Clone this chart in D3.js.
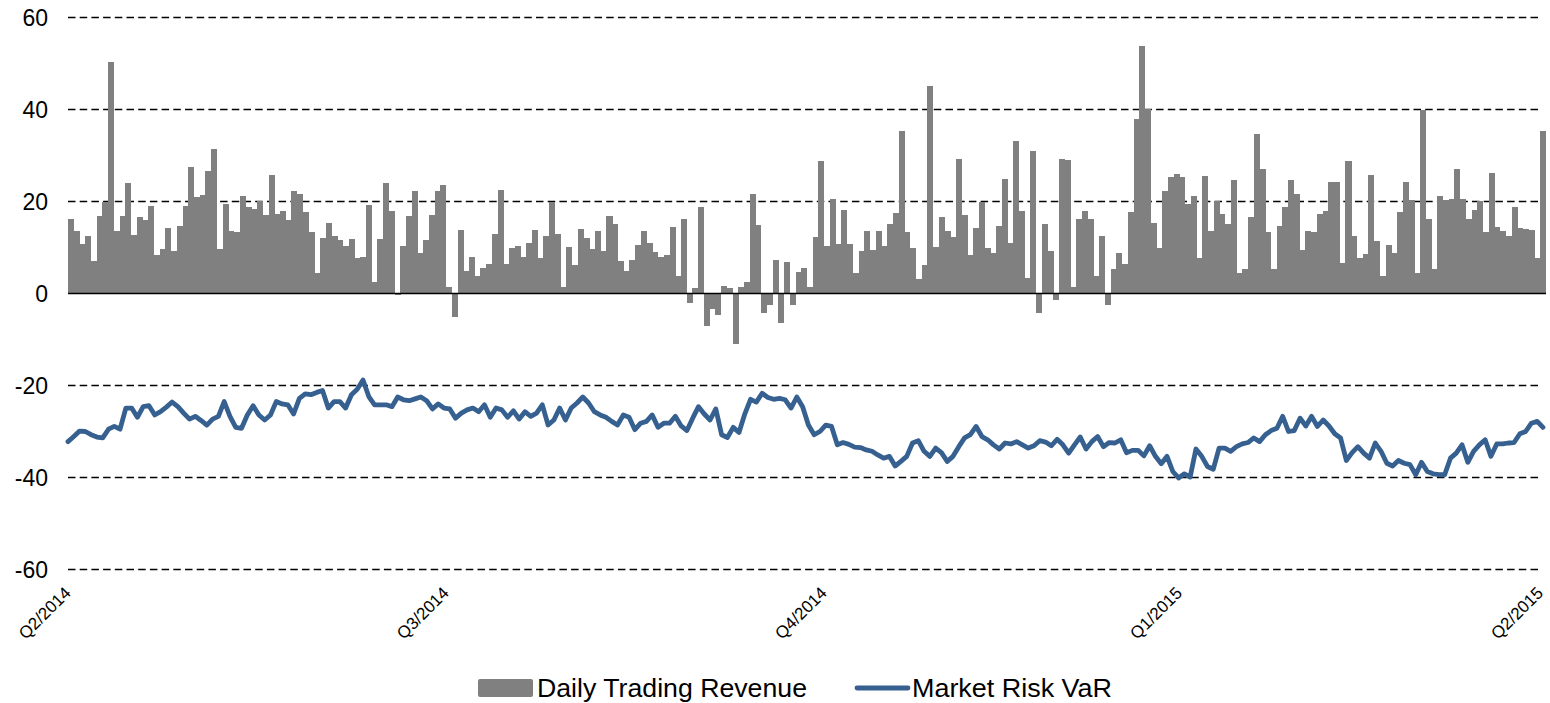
<!DOCTYPE html>
<html>
<head>
<meta charset="utf-8">
<script src="https://cdn.jsdelivr.net/npm/d3@7"></script>
<style>
  body { margin: 0; background: #fff; }
  text { font-family: "Liberation Sans", Arial, sans-serif; fill: #000; }
</style>
</head>
<body>
<svg id="chart" width="1550" height="703"></svg>
<script>
// daily trading revenue, one value per trading day
var revenue = [
  16.2, 13.6, 10.7, 12.4, 7.1, 16.9, 20, 50.3, 13.6, 16.9, 24.1, 12.8, 16.7, 15.9, 19.1, 8.4, 9.6, 14.2, 9.3, 14.7,
  19.1, 27.6, 20.9, 21.4, 26.7, 31.4, 9.7, 19.4, 13.6, 13.3, 21.1, 18.9, 18.3, 20.1, 17.1, 25.7, 17.3, 18, 15.9, 22.2, 21.6,
  17.8, 13.3, 4.4, 12, 15.4, 12.5, 11.7, 10.4, 11.8, 7.7, 8, 19.3, 2.6, 11.8, 24, 18, -0.3, 10.4, 16.9, 22.3,
  8.8, 11.7, 17, 22.2, 23.5, 1.5, -5, 13.7, 4.8, 8, 3.7, 5.5, 6.4, 13, 22.5, 6.4, 9.9, 10.4, 8, 10.9, 13.8, 7.7, 12.4,
  20, 12.9, 1.4, 10.2, 6.2, 14, 12, 9.6, 13.5, 9.3, 16.9, 15.1, 7, 5, 7.3, 10.5, 13.6, 10.9, 9, 8,
  8.3, 14.4, 3.7, 16.1, -2.1, 1.2, 18.8, -7, -3.4, -4.6, 1.7, 1.2, -11, 1.4, 2.4, 21.7, 14.9, -4.3, -2.5, 7.3, -6.4, 6.8, -2.5,
  4.6, 5.5, 1.4, 12.2, 28.7, 10.4, 20.5, 10.7, 18.2, 10.7, 4.4, 9.3, 13.6, 9.5, 13.6, 10.4, 15.1, 17.5, 35.4, 13.3,
  10, 3.2, 6.1, 45.1, 10.2, 16.7, 13.6, 12.2, 29.3, 17.1, 8.4, 14.2, 19.8, 10, 8.8, 14.7, 24.9, 10.9, 33.2, 18, 3.3, 30.9, -4.3,
  15.1, 9.3, -1.4, 29.2, 29.1, 1.5, 16.3, 18, 16.3, 3.7, 12.4, -2.5, 5.4, 8.8, 6.4, 17.8, 38, 53.8, 40.1, 15.4,
  9.9, 22.3, 25.4, 25.9, 25.4, 19.4, 21.3, 7.7, 25.6, 13.5, 20.1, 17.2, 15.1, 24.7, 4.4, 5.4, 16.6, 34.7, 27.1, 13.3, 5.3, 14.6, 18.8,
  24.6, 21.7, 9.5, 13.5, 13.3, 17.3, 18, 24.3, 24.3, 6.7, 28.8, 12.6, 7.8, 8.6, 25.8, 11.4, 3.7, 10.6, 8.8, 17.8,
  24.2, 20.4, 4.4, 39.9, 16.2, 5.4, 21.3, 20.4, 20.6, 27.1, 20.6, 16.2, 18.2, 20.2, 13.3, 26.3, 14.4, 13.5, 12.5, 18.7, 14.2, 14, 13.8, 7.7, 35.4
];

// market risk VaR
var varValues = [
  -32.2, -31.1, -29.9, -30, -30.7, -31.2, -31.4, -29.5, -28.9, -29.5, -24.9, -24.9, -26.9, -24.6, -24.4, -26.4, -25.7, -24.7, -23.6, -24.6,
  -26, -27.3, -26.7, -27.6, -28.6, -27.3, -26.7, -23.5, -26.7, -29.1, -29.3, -26.4, -24.4, -26.4, -27.5, -26.4, -23.5, -24, -24.2,
  -26.2, -22.8, -21.8, -22, -21.5, -21.1, -24.9, -23.5, -23.5, -24.9, -22, -20.8, -18.8, -22.4, -24.2, -24.2, -24.2, -24.6, -22.5, -23.1,
  -23.3, -22.9, -22.5, -23.3, -25.1, -24, -24.9, -25.1, -27.1, -26, -25.3, -24.9, -25.7, -24.2, -26.9, -24.9, -25.3, -26.9, -25.5, -27.3, -25.7, -26.7, -26,
  -24.2, -28.6, -27.5, -24.9, -27.5, -24.9, -23.8, -22.5, -23.8, -25.7, -26.4, -26.9, -27.8, -28.6, -26.4, -26.9, -29.6, -28.2, -27.8, -26.4,
  -29.1, -28.2, -28.2, -26.7, -28.8, -29.8, -27.1, -24.6, -26.2, -27.5, -25.1, -30.7, -31.3, -29.1, -30.2, -26.2, -23, -23.6, -21.7, -22.6, -23, -22.8, -23.1,
  -24.9, -22.5, -24.6, -28.6, -30.7, -30, -28.6, -28.9, -32.9, -32.4, -32.8, -33.4, -33.5, -34, -34.3, -35.1, -35.8, -35.4, -37.5, -36.5,
  -35.4, -32.5, -32, -34.3, -35.4, -33.6, -34.6, -36.5, -35.4, -33.3, -31.4, -30.7, -28.9, -31.1, -31.8, -32.9, -33.8, -32.5, -32.7, -32.2, -32.9, -33.6, -33.1,
  -32, -32.3, -33.1, -31.7, -32.9, -34.7, -32.9, -31.2, -33.8, -32.2, -31.1, -33.3, -32.4, -32.5, -31.8, -34.6, -34.1, -34.1, -35.3, -33.1,
  -35.4, -37, -35.4, -38.7, -40.1, -39.2, -39.9, -33.8, -35.4, -37.6, -38.2, -33.6, -33.6, -34.3, -33.3, -32.7, -32.4, -31.4, -32.2, -30.7, -29.8, -29.3, -26.7,
  -30, -29.8, -27.1, -28.8, -26.7, -28.9, -27.5, -28.8, -30.5, -31.4, -36.3, -34.6, -33.3, -34.7, -35.8, -32.5, -34.3, -36.9, -37.5, -36.3,
  -36.9, -37.2, -39.4, -36.7, -38.7, -39.2, -39.4, -39.4, -35.8, -34.7, -32.9, -36.7, -34.3, -32.9, -31.8, -35.4, -32.7, -32.7, -32.5, -32.4, -30.5, -30, -28.2, -27.8, -29.1
];

var quarterLabels = ["Q2/2014", "Q3/2014", "Q4/2014", "Q1/2015", "Q2/2015"];
var quarterDay = [0, 66, 132, 194, 257];   // trading day index where each quarter starts
var yTicks = [-60, -40, -20, 0, 20, 40, 60];
var seriesNames = ["Daily Trading Revenue", "Market Risk VaR"];

var barColor = "#808080", lineColor = "#36608f";

var svg = d3.select("#chart");

var x = d3.scaleBand()
  .domain(d3.range(revenue.length))
  .range([68, 1546])
  .padding(0);

var xLine = d3.scaleLinear()
  .domain([0, varValues.length - 1])
  .range([68, 1543]);

var y = d3.scaleLinear()
  .domain([-60, 60])
  .range([569.5, 17.5]);

// dashed gridlines
svg.append("g")
  .selectAll("line")
  .data(yTicks.filter(function(d) { return d !== 0; }))
  .enter().append("line")
  .attr("x1", 68).attr("x2", 1541)
  .attr("y1", function(d) { return y(d); })
  .attr("y2", function(d) { return y(d); })
  .attr("stroke", "#000")
  .attr("stroke-width", 1.5)
  .attr("stroke-dasharray", "7.5,4.2");

// y labels
svg.append("g")
  .selectAll("text")
  .data(yTicks)
  .enter().append("text")
  .attr("x", 48)
  .attr("y", function(d) { return y(d); })
  .attr("dy", "0.36em")
  .attr("text-anchor", "end")
  .style("font-size", "23px")
  .text(function(d) { return d; });

// bars
svg.append("g")
  .attr("shape-rendering", "crispEdges")
  .selectAll("rect")
  .data(revenue)
  .enter().append("rect")
  .attr("x", function(d, i) { return x(i); })
  .attr("width", x.bandwidth() + 0.3)
  .attr("y", function(d) { return y(Math.max(0, d)); })
  .attr("height", function(d) { return Math.abs(y(d) - y(0)); })
  .attr("fill", barColor);

// zero line
svg.append("line")
  .attr("x1", 68).attr("x2", 1546)
  .attr("y1", y(0)).attr("y2", y(0))
  .attr("stroke", "#000")
  .attr("stroke-width", 1.3);

// VaR line
var line = d3.line()
  .x(function(d, i) { return xLine(i); })
  .y(function(d) { return y(d); });

svg.append("path")
  .datum(varValues)
  .attr("d", line)
  .attr("fill", "none")
  .attr("stroke", lineColor)
  .attr("stroke-width", 4.8)
  .attr("stroke-linejoin", "round")
  .attr("stroke-linecap", "round");

// quarter labels
svg.append("g")
  .selectAll("text")
  .data(quarterLabels)
  .enter().append("text")
  .attr("transform", function(d, i) {
    var px = x(quarterDay[i]) + x.bandwidth() / 2 + 1;
    return "translate(" + px + ",594) rotate(-45)";
  })
  .attr("text-anchor", "end")
  .style("font-size", "17px")
  .text(function(d) { return d; });

// legend
var legend = svg.append("g");
legend.append("rect")
  .attr("x", 478).attr("y", 679)
  .attr("width", 55).attr("height", 18)
  .attr("rx", 2)
  .attr("fill", barColor);
legend.append("text")
  .attr("x", 537).attr("y", 697)
  .attr("textLength", 270)
  .attr("lengthAdjust", "spacingAndGlyphs")
  .style("font-size", "25px")
  .text(seriesNames[0]);
legend.append("line")
  .attr("x1", 857).attr("x2", 908)
  .attr("y1", 688).attr("y2", 688)
  .attr("stroke", lineColor)
  .attr("stroke-width", 4.8)
  .attr("stroke-linecap", "round");
legend.append("text")
  .attr("x", 912).attr("y", 697)
  .attr("textLength", 200)
  .attr("lengthAdjust", "spacingAndGlyphs")
  .style("font-size", "25px")
  .text(seriesNames[1]);
</script>
</body>
</html>
